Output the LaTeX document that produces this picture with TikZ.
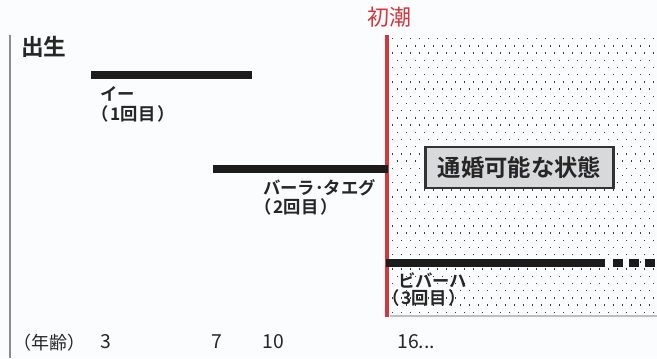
\documentclass[tikz,border=0pt]{standalone}
\usepackage{fontspec}
\setmainfont{Noto Sans CJK JP}[BoldFont={Noto Sans CJK JP Bold}]
\definecolor{bgc}{HTML}{FBFCFD}
\definecolor{axisgray}{HTML}{8C8C8C}
\definecolor{menred}{HTML}{D0393E}
\definecolor{barc}{HTML}{1C1C1C}
\definecolor{dotc}{HTML}{3A3A3A}
\definecolor{boxfill}{HTML}{D8D9DA}
\definecolor{boxline}{HTML}{333333}
\newcommand{\pl}{（\hspace{1.5pt}}
\newcommand{\prr}{\hspace{1.5pt}）}
\tikzset{
  bar/.style={line width=6pt, draw=barc},
  lbl/.style={anchor=west, inner sep=0pt, font=\fontsize{13}{15}\selectfont\bfseries, text=black!85},
  agelbl/.style={anchor=center, inner sep=0pt, font=\fontsize{14.5}{16}\selectfont, text=black!85},
}
\begin{document}
\begin{tikzpicture}[x=0.75pt,y=-0.75pt]
\useasboundingbox (0,0) rectangle (657,358);
\fill[bgc] (0,0) rectangle (657,358);
% dotted region
\foreach \r in {0,...,38}{
  \pgfmathsetmacro\yy{38+\r*7.2}
  \pgfmathsetmacro\off{mod(\r,2)*4.5}
  \foreach \c in {0,...,29}{
    \pgfmathsetmacro\xx{392+\off+\c*9}
    \ifdim\xx pt<656pt
      \fill[dotc] (\xx,\yy) rectangle +(1.4,1.4);
    \fi
  }
}
\draw[black!25, line width=0.8pt] (390,316) -- (657,316);
% left axis line
\coordinate (axtop) at (10,35);
\coordinate (axbot) at (10,358);
\draw[axisgray, line width=2pt] (axtop) -- (axbot);
% menarche line
\coordinate (redtop) at (387,35);
\coordinate (redbot) at (387,317);
\draw[menred, line width=2.3pt] (redtop) -- (redbot);
\node[text=menred, inner sep=0pt, font=\fontsize{16.5}{18}\selectfont] (shocho) at (389,17) {初潮};
% birth
\node[anchor=west, inner sep=0pt, font=\fontsize{17}{19}\selectfont\bfseries, text=black!85] (birth) at (21,47) {出生};
% bar 1
\coordinate (b1s) at (91,75);
\coordinate (b1e) at (252,75);
\draw[bar] (b1s) -- (b1e);
\node[lbl] (ihi) at (100,94) {イー};
\node[lbl] (ihin) at (91,114) {\pl 1回目\prr};
% bar 2
\coordinate (b2s) at (213,169);
\coordinate (b2e) at (388,169);
\draw[bar] (b2s) -- (b2e);
\node[lbl] (bahra) at (263,188) {バーラ･タエグ};
\node[lbl] (bahran) at (254,207) {\pl 2回目\prr};
% bar 3
\coordinate (b3s) at (386,263);
\coordinate (b3e) at (605,263);
\coordinate (b3d) at (613,263);
\coordinate (b3f) at (657,263);
\draw[bar] (b3s) -- (b3e);
\draw[bar, dash pattern=on 7.5pt off 4.5pt] (b3d) -- (b3f);
\node[lbl] (bibaha) at (398,280) {ビバーハ};
\node[lbl] (bibahan) at (382,298) {\pl 3回目\prr};
% box
\node[draw=boxline, fill=boxfill, line width=1.6pt, minimum width=141pt, minimum height=30.5pt, inner sep=0pt, font=\fontsize{17.5}{19}\selectfont\bfseries, text=black!85] (state) at (519.5,167.5) {通婚可能な状態};
% age axis labels
\node[agelbl, anchor=west, font=\fontsize{13.5}{15}\selectfont] (agehd) at (13,343) {（年齢）};
\node[agelbl] (a3) at (106,342) {3};
\node[agelbl] (a7) at (217,342) {7};
\node[agelbl] (a10) at (273,342) {10};
\node[agelbl, anchor=west] (a16) at (397,342) {16...};
\end{tikzpicture}
\end{document}
